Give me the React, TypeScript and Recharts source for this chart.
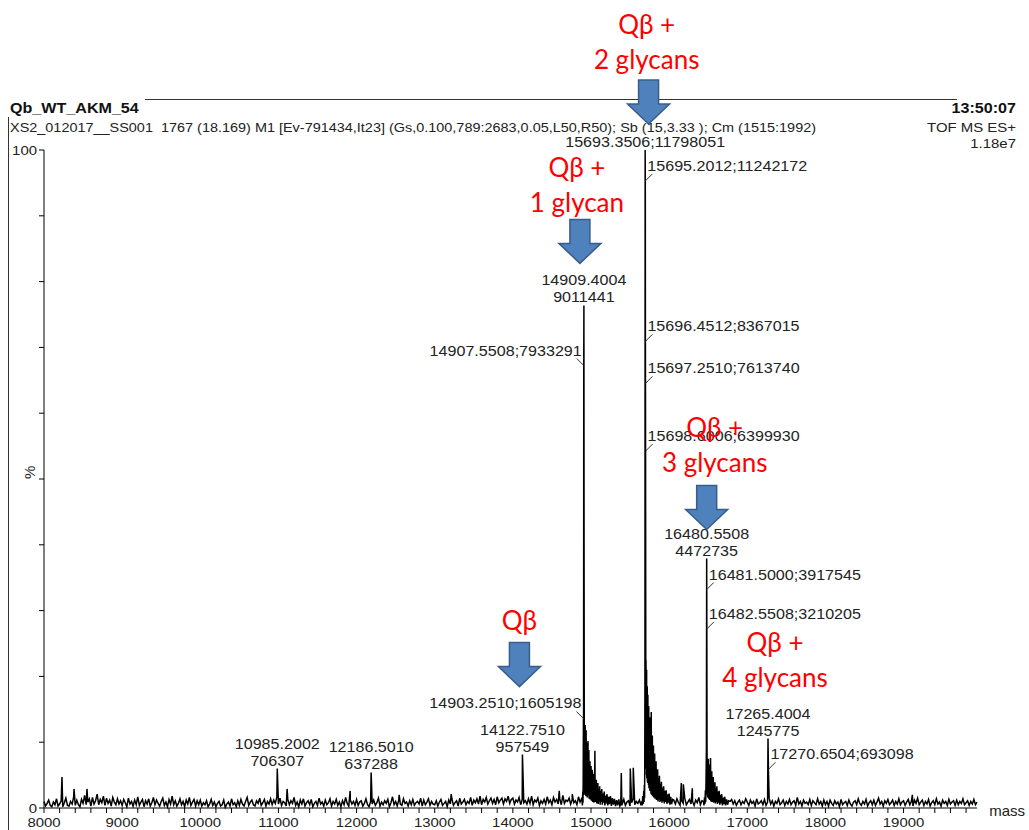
import { ComposedChart, Line, Scatter, XAxis, YAxis } from 'recharts';

const FONT = '"Liberation Sans", Arial, sans-serif';
const RED_FONT = 'Lato, "Open Sans", sans-serif';

// base peak intensity (100 %)
const BASE_PEAK = 11798051;

// baseline noise, % of base peak, sampled every NOISE_STEP Da from NOISE_START
const NOISE_START = 8000;
const NOISE_STEP = 20;
const noise08 = [
  1.0, 0.3, 0.7, 1.2, 0.4, 0.2, 0.9, 0.5, 1.4, 0.3, 0.6, 1.1, 0.2, 0.8, 1.5, 0.4, 0.3, 1.0, 0.6, 1.7,
  0.4, 1.2, 0.5, 0.2, 1.3, 0.7, 1.9, 0.5, 0.9, 1.4, 0.3, 1.6, 0.6, 1.1, 2.1, 0.5, 1.3, 0.8, 1.8, 0.4,
  1.5, 0.7, 1.2, 0.3, 1.6, 0.9, 0.5, 1.4, 0.6, 1.1,
];
const noise09 = [
  0.4, 1.3, 0.8, 0.2, 1.5, 0.6, 1.0, 0.3, 1.2, 0.5, 1.7, 0.4, 0.9, 1.3, 0.2, 1.1, 0.6, 1.4, 0.3, 0.8,
  1.6, 0.5, 1.2, 0.7, 0.3, 1.0, 1.5, 0.4, 0.9, 0.2, 1.3, 0.6, 1.8, 0.5, 1.1, 0.3, 0.7, 1.4, 0.5, 1.0,
  0.2, 1.2, 0.6, 1.6, 0.4, 0.9, 1.3, 0.3, 1.1, 0.5,
];
const noise10 = [
  1.2, 0.3, 0.8, 0.5, 1.1, 0.2, 0.6, 1.3, 0.4, 0.9, 0.2, 0.7, 1.0, 0.3, 0.5, 1.2, 0.1, 0.6, 0.9, 0.3,
  1.4, 0.5, 0.8, 0.2, 1.1, 0.4, 1.3, 0.6, 0.3, 1.0, 1.6, 0.4, 0.9, 1.2, 0.5, 0.3, 1.1, 0.7, 1.5, 0.4,
  0.8, 1.3, 0.3, 1.0, 0.6, 1.4, 0.5, 1.2, 0.7, 1.7,
];
const noise11 = [
  0.6, 1.5, 0.4, 1.0, 0.8, 0.3, 1.3, 0.5, 1.1, 0.7, 1.6, 0.4, 0.9, 0.2, 1.2, 0.6, 1.4, 0.3, 0.8, 1.1,
  0.5, 1.3, 0.2, 0.7, 1.0, 0.4, 1.5, 0.6, 0.9, 0.3, 1.2, 0.5, 0.8, 1.4, 0.3, 1.0, 0.6, 1.3, 0.4, 0.9,
  0.2, 1.1, 0.5, 1.6, 0.7, 0.3, 1.2, 0.6, 1.0, 0.4,
];
const noise12 = [
  1.3, 0.4, 0.9, 1.1, 0.3, 0.7, 1.4, 0.5, 0.2, 1.0, 0.6, 1.2, 0.4, 0.8, 1.5, 0.3, 0.9, 0.5, 1.1, 0.7,
  1.3, 0.2, 0.8, 1.7, 0.5, 1.0, 0.3, 1.2, 0.6, 0.4, 1.4, 0.7, 0.9, 0.3, 1.1, 0.5, 1.3, 0.4, 0.8, 1.0,
  0.6, 1.5, 0.3, 1.2, 0.5, 0.9, 1.4, 0.4, 1.0, 0.6,
];
const noise13 = [
  0.5, 1.1, 0.3, 0.9, 1.3, 0.4, 0.7, 1.0, 0.2, 1.2, 0.6, 1.4, 0.4, 0.8, 1.1, 0.3, 1.5, 0.6, 0.9, 1.3,
  0.5, 1.0, 0.7, 1.6, 0.4, 1.2, 0.8, 1.4, 0.6, 1.8, 0.5, 1.3, 0.9, 1.6, 0.6, 1.1, 1.5, 0.7, 1.3, 0.5,
  1.7, 0.8, 1.2, 1.5, 0.6, 1.4, 1.0, 1.8, 0.7, 1.3,
];
const noise14 = [
  1.5, 0.6, 1.2, 0.9, 1.6, 0.5, 1.3, 0.8, 1.1, 0.6, 1.4, 0.7, 1.8, 0.5, 1.2, 0.9, 1.5, 0.4, 1.1, 0.7,
  1.3, 0.6, 1.7, 0.8, 1.2, 0.5, 1.6, 0.9, 1.3, 0.6, 1.4, 0.5, 1.9, 0.7, 1.2, 1.0, 1.5, 0.6, 1.3, 0.8,
  1.1, 0.5, 1.7, 0.9, 1.4, 0.6, 1.2, 0.8, 1.8, 1.0,
];
const noise15 = [
  0.8, 1.2, 0.6, 1.0, 0.7, 1.3, 0.5, 1.1, 0.9, 0.6, 1.0, 0.5, 1.2, 0.8, 0.6, 1.1, 0.4, 0.9, 0.7, 1.0,
  0.6, 1.3, 0.4, 0.9, 1.1, 0.3, 0.8, 1.4, 0.5, 1.0, 0.7, 1.2, 0.4, 0.9, 0.6, 1.1, 0.5, 0.8, 1.0, 0.6,
  0.9, 0.5, 1.1, 0.7, 0.4, 1.0, 0.6, 0.8, 0.5, 0.9,
];
const noise16 = [
  0.7, 1.0, 0.5, 1.2, 0.6, 1.4, 0.8, 0.4, 1.1, 0.7, 1.5, 0.5, 0.9, 1.3, 0.6, 1.0, 0.4, 1.2, 0.8, 1.6,
  0.5, 1.1, 0.7, 1.0, 0.6, 0.9, 0.5, 1.1, 0.7, 0.8, 0.6, 1.0, 0.5, 0.9, 0.7, 1.1, 0.4, 0.8, 0.6, 1.0,
  1.3, 0.6, 1.1, 0.4, 0.9, 1.2, 0.5, 1.0, 0.7, 1.4,
];
const noise17 = [
  0.9, 0.4, 1.2, 0.7, 1.0, 0.3, 1.4, 0.6, 0.8, 1.1, 0.5, 1.3, 0.4, 0.9, 1.5, 0.6, 1.1, 0.3, 1.0, 0.7,
  1.4, 0.5, 0.8, 1.2, 0.4, 1.0, 0.6, 1.3, 0.5, 0.9, 1.1, 0.4, 1.6, 0.6, 1.0, 0.3, 1.2, 0.7, 0.9, 0.5,
  1.3, 0.4, 1.1, 0.8, 0.5, 1.4, 0.6, 1.0, 0.3, 1.2,
];
const noise18 = [
  0.5, 1.0, 0.3, 1.2, 0.7, 0.4, 1.1, 0.6, 0.9, 0.2, 1.3, 0.5, 0.8, 1.0, 0.4, 1.2, 0.6, 0.3, 0.9, 1.1,
  0.5, 1.4, 0.7, 0.4, 1.0, 0.6, 1.3, 0.3, 0.8, 1.1, 0.5, 1.2, 0.4, 0.9, 1.5, 0.6, 1.0, 0.3, 1.1, 0.7,
  1.3, 0.5, 0.8, 1.2, 0.4, 1.0, 0.6, 1.4, 0.5, 0.9,
];
const noise19 = [
  1.1, 0.4, 0.9, 1.3, 0.5, 1.0, 0.3, 1.2, 0.7, 1.5, 0.5, 0.9, 1.2, 0.4, 1.0, 0.6, 1.3, 0.3, 0.8, 1.1,
  0.5, 1.4, 0.6, 0.9, 0.3, 1.2, 0.7, 1.0, 0.4, 1.3, 0.6, 0.9, 1.1, 0.4, 1.2, 0.5, 1.0, 0.7, 1.4, 0.5,
  0.8, 1.1, 0.4, 1.0, 0.6, 1.3, 0.5, 0.9,
];
const noiseBlocks = [noise08, noise09, noise10, noise11, noise12, noise13, noise14, noise15, noise16, noise17, noise18, noise19];

// unlabelled profile points around the three glycoform clusters [mass, %]
const glycan1Profile = [
  [14885, 1.2], [14890, 0.4], [14895, 2.5], [14898, 0.8], [14900, 4.0], [14905.2, 10.5], [14911.5, 40], [14914, 13.2],
  [14917, 2.0], [14920, 11.5], [14923, 3.1], [14926, 12.6], [14929, 2.4], [14932, 9.2], [14935, 1.8], [14938, 11.8],
  [14941, 3.0], [14944, 8.4], [14947, 2.2], [14950, 9.9], [14953, 1.6], [14956, 7.5], [14959, 2.7], [14962, 10.2],
  [14965, 1.9], [14968, 6.8], [14971, 2.5], [14973, 8.8], [14976, 1.4], [14980, 6.2], [14983, 2.0], [14987, 7.1],
  [14990, 1.3], [14994, 5.6], [14997, 1.8], [15001, 6.4], [15005, 1.1], [15009, 5.0], [15013, 1.7], [15017, 5.8],
  [15021, 0.9], [15025, 4.6], [15029, 1.5], [15033, 5.2], [15037, 0.8], [15041, 4.0], [15045, 1.4], [15050, 8.7],
  [15054, 0.9], [15058, 3.6], [15063, 1.2], [15068, 4.3], [15073, 0.7], [15078, 3.2], [15083, 1.1], [15088, 3.8],
  [15093, 0.6], [15099, 2.9], [15105, 1.0], [15111, 3.3], [15117, 0.5], [15124, 2.6], [15131, 0.9], [15138, 2.9],
  [15145, 0.5], [15153, 2.2], [15161, 0.8], [15169, 2.5], [15177, 0.4], [15186, 1.9], [15195, 0.7], [15205, 2.1],
  [15215, 0.4], [15226, 1.7], [15237, 0.6], [15249, 1.8], [15261, 0.3], [15274, 1.5], [15287, 0.5], [15300, 1.4],
  [15314, 0.3], [15328, 1.2], [15342, 0.4], [15356, 1.3], [15370, 0.3], [15381, 0.6], [15388, 5.3], [15395, 0.4],
];
const glycan2Profile = [
  [15650, 1.0], [15656, 0.4], [15662, 1.8], [15668, 0.6], [15675, 2.6], [15679, 0.9], [15683, 3.5], [15686, 1.5],
  [15688, 6], [15690.5, 20], [15700.5, 30], [15702, 9], [15704, 22.5], [15706, 6], [15708, 19], [15710, 5],
  [15712, 21], [15714, 4.5], [15716, 17], [15718, 5], [15720, 18.5], [15722, 4], [15724, 15], [15726, 3.8],
  [15728, 17.2], [15730, 4.2], [15733, 14], [15736, 3.5], [15739, 15.5], [15742, 3], [15745, 12.6], [15748, 3.3],
  [15751, 13.8], [15754, 2.6], [15757, 11.4], [15760, 2.9], [15764, 12.5], [15767, 2.2], [15771, 14.6], [15774, 2.0],
  [15778, 10.2], [15781, 2.4], [15785, 11.0], [15788, 1.8], [15792, 8.6], [15795, 2.1], [15799, 9.5], [15803, 1.6],
  [15807, 7.6], [15811, 1.9], [15815, 8.3], [15819, 1.4], [15824, 6.5], [15828, 1.7], [15833, 7.1], [15838, 1.2],
  [15843, 5.4], [15848, 1.5], [15853, 5.9], [15858, 1.0], [15864, 4.5], [15870, 1.3], [15876, 4.9], [15882, 0.9],
  [15888, 3.7], [15894, 1.1], [15901, 4.0], [15908, 0.8], [15915, 3.1], [15922, 1.0], [15930, 3.3], [15938, 0.7],
  [15946, 2.6], [15954, 0.9], [15963, 2.7], [15972, 0.6], [15981, 2.1], [15990, 0.8], [16000, 2.2], [16010, 0.5],
  [16020, 1.7], [16032, 0.6], [16045, 1.3],
];
const glycan3Profile = [
  [16440, 1.0], [16446, 0.4], [16452, 1.6], [16458, 0.6], [16464, 2.7], [16468, 0.9], [16472, 4.0], [16477, 9],
  [16485, 9.5], [16487, 2.0], [16490, 7.2], [16493, 1.6], [16496, 6.5], [16499, 1.8], [16502, 7.5], [16505, 1.4],
  [16508, 5.9], [16511, 1.5], [16515, 6.6], [16518, 1.2], [16522, 5.3], [16526, 1.4], [16530, 7.6], [16534, 1.0],
  [16538, 4.8], [16542, 1.3], [16546, 5.6], [16550, 0.9], [16555, 4.3], [16560, 1.1], [16565, 4.7], [16570, 0.8],
  [16575, 3.6], [16580, 1.0], [16586, 3.9], [16592, 0.7], [16598, 3.0], [16604, 0.9], [16611, 3.3], [16618, 0.6],
  [16625, 2.5], [16632, 0.8], [16640, 2.6], [16648, 0.5], [16656, 2.0], [16664, 0.7], [16673, 2.1], [16682, 0.4],
  [16692, 1.6], [16702, 0.6], [16712, 1.7], [16723, 0.4], [16735, 1.3], [16748, 0.5], [16760, 1.1],
];

// small unlabelled spikes [mass, %]
const minorSpikes = [
  [8230, 4.7], [8384, 2.9], [8550, 2.9], [11111, 2.9], [11918, 2.6], [12545, 2.0], [13211, 2.1],
  [14594, 2.6], [14760, 2.1], [15503, 6.0], [15541, 6.1], [16156, 3.8], [16182, 3.6], [16297, 3.0],
  [19113, 2.0],
];

// labelled peaks: mass, intensity, label placement
const peakMasses = [15693.3506, 15695.2012, 15696.4512, 15697.251, 15698.6006, 14909.4004, 14907.5508, 14903.251, 16480.5508, 16481.5, 16482.5508, 17265.4004, 17270.6504, 14122.751, 10985.2002, 12186.501];
const peakIntensities = [11798051, 11242172, 8367015, 7613740, 6399930, 9011441, 7933291, 1605198, 4472735, 3917545, 3210205, 1245775, 693098, 957549, 706307, 637288];
const peakPlacement = ['top', 'right', 'right', 'right', 'right', 'stack', 'left', 'left', 'stack', 'right', 'right', 'stack', 'right', 'stack', 'stack', 'stack'];

const majorTicks = [8000, 9000, 10000, 11000, 12000, 13000, 14000, 15000, 16000, 17000, 18000, 19000];
const yTicks = [0, 10, 20, 30, 40, 50, 60, 70, 80, 90, 100];

// red annotations: anchor peak, text lines, offsets, arrow tip offset
const noteTexts = [['Qβ +', '2 glycans'], ['Qβ +', '1 glycan'], ['Qβ +', '3 glycans'], ['Qβ'], ['Qβ +', '4 glycans']];
const noteAnchors = [15693.3506, 14909.4004, 16480.5508, 14122.751, 17265.4004];
const noteOffsets = [[1.5, -116], [-7, -128], [8, -122], [-3, -125], [7, -87]];
const noteArrows = [[3.4, -26], [-4, -42], [0, -29], [-3, -68], null];

const labelled = peakMasses.map((mass, i) => ({
  mass,
  pct: (peakIntensities[i] / BASE_PEAK) * 100,
  kind: peakPlacement[i],
  lines:
    peakPlacement[i] === 'stack'
      ? [mass.toFixed(4), String(peakIntensities[i])]
      : [`${mass.toFixed(4)};${peakIntensities[i]}`],
}));

const profiles = [glycan1Profile, glycan2Profile, glycan3Profile];
const windows = profiles.map((p) => [p[0][0], p[p.length - 1][0]]);

const spectrum: { mass: number; pct: number }[] = [];
noiseBlocks.flat().forEach((pct, i) => {
  const mass = NOISE_START + i * NOISE_STEP;
  if (!windows.some(([a, b]) => mass >= a && mass <= b)) spectrum.push({ mass, pct });
});
[...glycan1Profile, ...glycan2Profile, ...glycan3Profile, ...minorSpikes].forEach(([mass, pct]) =>
  spectrum.push({ mass, pct })
);
labelled.forEach(({ mass, pct }) => spectrum.push({ mass, pct }));
spectrum.sort((a, b) => a.mass - b.mass);

// minor ticks every 200 Da, labels on the thousands
const xTicks: number[] = [];
majorTicks.forEach((t) => {
  for (let k = 0; k < 5; k++) xTicks.push(t + k * 200);
});

const notes = noteTexts.map((lines, i) => {
  const peak = labelled.find((p) => p.mass === noteAnchors[i])!;
  return { mass: peak.mass, pct: peak.pct, lines, offset: noteOffsets[i], arrow: noteArrows[i] };
});

const textStyle = { fontFamily: FONT, fontSize: 14, fill: '#222' };

const XTick = (props: any) => {
  const { x, y, payload } = props;
  if (payload.value % 1000 !== 0) return <g />;
  return (
    <text transform={`translate(${x},${y + 12}) scale(1.15,1)`} textAnchor="middle" {...textStyle} fontSize={13}>
      {payload.value}
    </text>
  );
};

const YTick = (props: any) => {
  const { x, y, payload } = props;
  if (payload.value !== 0 && payload.value !== 100) return <g />;
  return (
    <text transform={`translate(${x},${y + 5}) scale(1.15,1)`} textAnchor="end" {...textStyle} fontSize={13}>
      {payload.value}
    </text>
  );
};

const PeakTag = (props: any) => {
  const { cx, cy, payload } = props;
  const lines: string[] = payload.lines;
  if (payload.kind === 'stack' || payload.kind === 'top') {
    return (
      <g>
        {lines.map((t, i) => (
          <text
            key={i}
            transform={`translate(${cx},${cy - 3 - (lines.length - 1 - i) * 17}) scale(1.15,1)`}
            textAnchor="middle"
            {...textStyle}
          >
            {t}
          </text>
        ))}
      </g>
    );
  }
  const dir = payload.kind === 'right' ? 1 : -1;
  return (
    <g>
      <line x1={cx} y1={cy} x2={cx + dir * 7} y2={cy - 7} stroke="#333" strokeWidth={1} />
      <text
        transform={`translate(${cx + dir * 2},${cy - 10}) scale(1.15,1)`}
        textAnchor={dir > 0 ? 'start' : 'end'}
        {...textStyle}
      >
        {lines[0]}
      </text>
    </g>
  );
};

const Note = (props: any) => {
  const { cx, cy, payload } = props;
  const [dx, dy] = payload.offset;
  let arrow = null;
  if (payload.arrow) {
    const tx = cx + payload.arrow[0];
    const ty = cy + payload.arrow[1];
    const pts = [
      [tx - 10, ty - 44], [tx + 10, ty - 44], [tx + 10, ty - 20], [tx + 21, ty - 20],
      [tx, ty], [tx - 21, ty - 20], [tx - 10, ty - 20],
    ].map((p) => p.join(',')).join(' ');
    arrow = <polygon points={pts} fill="#4F81BD" stroke="#385D8A" strokeWidth={1.5} />;
  }
  return (
    <g>
      {payload.lines.map((t: string, i: number) => (
        <text key={i} x={cx + dx} y={cy + dy + i * 35} textAnchor="middle" fontFamily={RED_FONT} fontSize={26} fill="#FF0000">
          {t}
        </text>
      ))}
      {arrow}
    </g>
  );
};

export default function App() {
  return (
    <div style={{ position: 'absolute', left: 0, top: 0, width: 1029, height: 830, background: '#fff' }}>
      <svg width={1029} height={830} style={{ position: 'absolute', left: 0, top: 0 }}>
        <line x1={145} y1={99.5} x2={957} y2={99.5} stroke="#333" strokeWidth={1} />
        <line x1={8.5} y1={117} x2={8.5} y2={830} stroke="#333" strokeWidth={1} />
        <text transform="translate(10,113) scale(1.15,1)" fontFamily={FONT} fontSize={14} fontWeight="bold" fill="#111">
          Qb_WT_AKM_54
        </text>
        <text x={10} y={132} fontFamily={FONT} fontSize={13} fill="#222" textLength={806} lengthAdjust="spacingAndGlyphs">
          {'XS2_012017__SS001\u00a0 1767 (18.169) M1 [Ev-791434,It23] (Gs,0.100,789:2683,0.05,L50,R50); Sb (15,3.33 ); Cm (1515:1992)'}
        </text>
        <text transform="translate(1016,113) scale(1.15,1)" textAnchor="end" fontFamily={FONT} fontSize={14} fontWeight="bold" fill="#111">
          13:50:07
        </text>
        <text transform="translate(1016,132) scale(1.15,1)" textAnchor="end" fontFamily={FONT} fontSize={13} fill="#222">
          TOF MS ES+
        </text>
        <text transform="translate(1016,148) scale(1.15,1)" textAnchor="end" fontFamily={FONT} fontSize={13} fill="#222">
          1.18e7
        </text>
      </svg>
      <div style={{ position: 'absolute', left: 0, top: 0 }}>
        <ComposedChart width={1029} height={830} margin={{ top: 150, right: 52, bottom: 0, left: 0 }}>
          <XAxis
            dataKey="mass"
            type="number"
            domain={[8000, 19940]}
            ticks={xTicks}
            tick={<XTick />}
            tickSize={5}
            height={22}
            stroke="#000"
            interval={0}
            label={{ value: 'mass', position: 'insideTopRight', offset: 0, dx: 48, dy: -3, fontSize: 15, fill: '#222', fontFamily: FONT }}
          />
          <YAxis
            type="number"
            domain={[0, 100]}
            ticks={yTicks}
            tick={<YTick />}
            tickSize={5}
            width={44}
            stroke="#000"
            interval={0}
            label={{ value: '%', angle: -90, position: 'insideLeft', offset: 30, fontSize: 15, fill: '#222', fontFamily: FONT }}
          />
          <Line
            data={spectrum}
            dataKey="pct"
            type="linear"
            stroke="#000"
            strokeWidth={1.5}
            dot={false}
            isAnimationActive={false}
          />
          <Scatter data={labelled} dataKey="pct" shape={<PeakTag />} isAnimationActive={false} />
          <Scatter data={notes} dataKey="pct" shape={<Note />} isAnimationActive={false} />
        </ComposedChart>
      </div>
    </div>
  );
}
